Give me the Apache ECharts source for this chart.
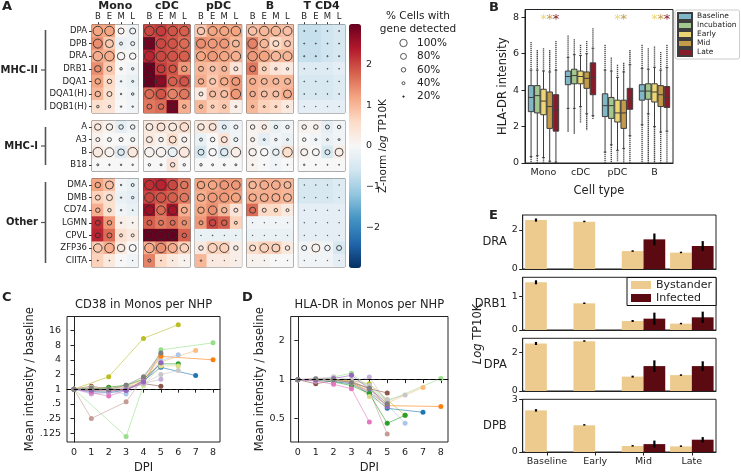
<!DOCTYPE html>
<html>
<head>
<meta charset="utf-8">
<script src="https://cdn.jsdelivr.net/npm/echarts@6/dist/echarts.min.js"></script>
<style>
html, body { margin: 0; padding: 0; background: #fff; }
#chart { width: 741px; height: 473px; }
</style>
</head>
<body>
<div id="chart"></div>
<script>
// ---------- panel A: dot heatmap ----------
const cellTypes = ['Mono', 'cDC', 'pDC', 'B', 'T CD4'];
const stages = ['B', 'E', 'M', 'L'];
const genesMHC2 = ['DPA', 'DPB', 'DRA', 'DRB1', 'DQA1', 'DQA1(H)', 'DQB1(H)'];
const genesMHC1 = ['A', 'A3', 'B', 'B18'];
const genesOther = ['DMA', 'DMB', 'CD74', 'LGMN', 'CPVL', 'ZFP36', 'CIITA'];
const groupNames = ['MHC-II', 'MHC-I', 'Other'];

// z-norm values, rows = MHC-II, MHC-I, Other genes in order
const zMono = [
  [1.2, 1.2, 0.05, -0.1], [1.4, 0.8, -0.2, -0.15], [1.1, 1.1, 0.05, 0.0], [1.4, 0.8, 0.0, -0.1],
  [1.2, 0.6, -0.1, -0.2], [1.0, 0.5, -0.05, -0.15], [0.5, 0.4, 0.0, -0.1],
  [0.3, 0.1, -0.3, -0.1], [0.1, 0.0, 0.0, -0.05], [0.3, 0.1, -0.4, 0.3], [0.0, 0.0, 0.0, 0.0],
  [1.2, 0.9, -0.1, -0.2], [0.7, 0.5, -0.2, -0.3], [1.1, 0.5, -0.1, -0.2], [2.2, 1.3, 0.2, 0.1],
  [2.3, 1.7, 0.5, 0.3], [0.8, 1.1, 0.3, 0.0], [0.7, 0.3, 0.0, -0.1]
];
const zCDC = [
  [2.0, 2.1, 1.9, 1.8], [2.9, 2.0, 1.9, 1.7], [2.3, 2.0, 1.9, 1.8], [3.0, 2.1, 1.9, 1.3],
  [3.0, 2.7, 1.8, 1.9], [1.7, 1.9, 1.5, 1.6], [1.6, 1.7, 2.9, 1.1],
  [0.3, 0.4, 0.3, 0.5], [0.3, 0.1, 0.5, 0.1], [0.1, 0.1, -0.2, 0.3], [0.0, 0.0, 0.4, 0.0],
  [2.2, 2.3, 2.0, 1.6], [2.0, 1.9, 1.8, 1.6], [2.6, 1.7, 2.5, 1.1], [1.8, 1.6, 1.7, 1.4],
  [3.0, 3.0, 3.0, 1.8], [1.1, 1.4, 1.1, 0.7], [1.5, 0.6, 0.3, 0.1]
];
const zPDC = [
  [0.8, 1.2, 1.2, 1.2], [1.4, 1.3, 1.3, 1.0], [1.2, 1.3, 1.2, 1.1], [1.0, 0.9, 1.0, 0.4],
  [1.1, 0.8, 1.1, 1.3], [0.3, 0.9, 0.9, 1.3], [1.0, 0.7, 0.8, 0.2],
  [0.3, 0.4, -0.3, -0.1], [-0.2, 0.0, 0.4, -0.1], [-0.5, 0.0, -0.4, 0.2], [0.0, 0.0, 0.0, 0.0],
  [1.2, 1.2, 1.3, 1.3], [1.1, 1.3, 1.3, 1.2], [1.2, 1.4, 1.0, 0.4], [1.3, 2.0, 1.8, 0.7],
  [-0.2, -0.2, -0.2, -0.2], [0.3, 0.7, 0.7, 0.2], [1.0, 0.3, 0.3, 0.2]
];
const zB = [
  [0.9, 1.0, 1.0, 0.9], [1.5, 1.0, 0.6, 0.8], [1.3, 1.2, 1.0, 1.0], [1.6, 0.7, 0.4, 0.3],
  [1.1, 1.0, 1.0, 1.0], [1.1, 0.9, 0.9, 1.1], [1.0, 0.7, 0.6, 0.3],
  [0.1, 0.2, -0.2, -0.1], [0.1, -0.3, -0.1, -0.2], [0.1, 0.0, -0.2, 0.5], [0.1, 0.0, -0.1, 0.0],
  [1.0, 1.1, 1.1, 1.0], [1.1, 1.1, 1.1, 1.0], [1.7, 0.6, 0.6, 0.3], [-0.1, -0.1, -0.1, -0.1],
  [-0.2, -0.2, -0.2, -0.2], [0.5, 0.7, 0.7, 0.3], [0.1, 0.1, 0.0, 0.0]
];
const zTCD4 = [
  [-0.7, -0.7, -0.6, -0.5], [-0.7, -0.7, -0.6, -0.5], [-0.7, -0.7, -0.6, -0.5], [-0.4, -0.4, -0.4, -0.3],
  [-0.5, -0.5, -0.5, -0.4], [-0.5, -0.5, -0.5, -0.4], [-0.3, -0.3, -0.3, -0.3],
  [0.1, 0.1, -0.3, -0.1], [0.0, -0.1, -0.2, -0.1], [0.1, 0.0, -0.5, 0.2], [0.0, 0.0, 0.0, 0.0],
  [-0.5, -0.5, -0.5, -0.4], [-0.5, -0.5, -0.5, -0.4], [-0.3, -0.3, -0.3, -0.3], [-0.3, -0.3, -0.3, -0.3],
  [-0.3, -0.3, -0.3, -0.3], [-0.1, 0.1, -0.1, -0.5], [-0.1, -0.1, -0.1, -0.3]
];
// fraction of cells with gene detected
const pctMono = [
  [0.95, 0.95, 0.6, 0.6], [0.9, 0.8, 0.3, 0.4], [0.95, 0.95, 0.75, 0.65], [0.65, 0.5, 0.25, 0.25],
  [0.55, 0.45, 0.15, 0.2], [0.55, 0.5, 0.15, 0.25], [0.25, 0.25, 0.15, 0.15],
  [0.65, 0.65, 0.45, 0.45], [0.4, 0.4, 0.4, 0.4], [0.95, 0.9, 0.65, 0.95], [0.2, 0.15, 0.15, 0.15],
  [0.55, 0.8, 0.15, 0.3], [0.5, 0.6, 0.15, 0.25], [0.45, 0.35, 0.15, 0.1], [0.5, 0.45, 0.15, 0.1],
  [0.5, 0.5, 0.3, 0.3], [0.85, 0.95, 0.75, 0.7], [0.1, 0.08, 0.05, 0.05]
];
const pctCDC = [
  [0.95, 0.95, 0.95, 0.95], [1.0, 0.95, 0.95, 0.95], [1.0, 1.0, 1.0, 1.0], [0.9, 0.8, 0.75, 0.55],
  [1.0, 0.95, 0.85, 0.9], [0.9, 0.95, 0.95, 0.95], [0.5, 0.55, 0.6, 0.35],
  [0.7, 0.8, 0.8, 0.85], [0.6, 0.45, 0.7, 0.5], [0.95, 0.95, 0.9, 1.0], [0.25, 0.2, 0.45, 0.25],
  [0.95, 1.0, 0.95, 0.75], [0.95, 0.95, 0.95, 0.85], [0.9, 0.85, 0.9, 0.6], [0.5, 0.5, 0.5, 0.45],
  [0.85, 0.85, 0.85, 0.45], [0.95, 0.95, 0.9, 0.85], [0.3, 0.1, 0.05, 0.05]
];
const pctPDC = [
  [0.75, 0.9, 0.9, 0.95], [0.9, 0.9, 0.9, 0.7], [0.9, 0.95, 0.95, 0.95], [0.5, 0.5, 0.5, 0.4],
  [0.55, 0.6, 0.75, 0.8], [0.4, 0.6, 0.7, 0.95], [0.35, 0.3, 0.35, 0.2],
  [0.65, 0.7, 0.4, 0.4], [0.3, 0.45, 0.6, 0.4], [0.6, 0.75, 0.75, 0.95], [0.25, 0.2, 0.2, 0.2],
  [0.75, 0.85, 0.85, 0.85], [0.75, 0.9, 0.9, 0.9], [0.65, 0.85, 0.55, 0.4], [0.4, 0.65, 0.55, 0.3],
  [0.05, 0.08, 0.05, 0.05], [0.45, 0.9, 0.9, 0.45], [0.15, 0.05, 0.05, 0.05]
];
const pctB = [
  [0.85, 0.95, 0.95, 0.9], [0.95, 0.85, 0.6, 0.6], [0.95, 1.0, 0.95, 0.9], [0.6, 0.4, 0.25, 0.25],
  [0.6, 0.6, 0.6, 0.6], [0.55, 0.6, 0.6, 0.8], [0.25, 0.2, 0.2, 0.2],
  [0.45, 0.45, 0.35, 0.35], [0.4, 0.2, 0.25, 0.2], [0.75, 0.75, 0.65, 0.95], [0.15, 0.1, 0.1, 0.1],
  [0.75, 0.85, 0.85, 0.7], [0.75, 0.8, 0.8, 0.8], [0.6, 0.4, 0.35, 0.3], [0.05, 0.05, 0.05, 0.05],
  [0.05, 0.05, 0.05, 0.05], [0.6, 0.85, 0.8, 0.45], [0.05, 0.05, 0.05, 0.05]
];
const pctTCD4 = [
  [0.1, 0.1, 0.1, 0.1], [0.1, 0.1, 0.1, 0.1], [0.12, 0.12, 0.12, 0.12], [0.08, 0.08, 0.08, 0.08],
  [0.08, 0.08, 0.08, 0.08], [0.08, 0.08, 0.08, 0.08], [0.06, 0.06, 0.06, 0.06],
  [0.45, 0.45, 0.4, 0.35], [0.35, 0.2, 0.2, 0.2], [0.7, 0.7, 0.5, 0.8], [0.15, 0.1, 0.1, 0.1],
  [0.05, 0.05, 0.05, 0.05], [0.05, 0.05, 0.05, 0.05], [0.05, 0.05, 0.05, 0.05], [0.04, 0.04, 0.04, 0.04],
  [0.04, 0.04, 0.04, 0.04], [0.5, 0.8, 0.55, 0.5], [0.03, 0.03, 0.03, 0.03]
];
const sizeLegendPct = [1.0, 0.8, 0.6, 0.4, 0.2];
const sizeLegendText = ['100%', '80%', '60%', '40%', '20%'];
const colorbarTicks = [-2, -1, 0, 1, 2];

// ---------- panel B: HLA-DR boxplots ----------
const boxCats = ['Mono', 'cDC', 'pDC', 'B'];
const boxConds = ['Baseline', 'Incubation', 'Early', 'Mid', 'Late'];
const boxColors = ['#7fb7c6', '#a2c78f', '#ecd674', '#c39a47', '#861b2a'];
// [lowWhisker, q1, median, q3, highWhisker] per cell type
const boxBaseline = [[0.35, 2.82, 3.6, 4.25, 5.1], [3.0, 4.3, 4.75, 5.05, 5.8], [0.6, 2.55, 3.15, 3.8, 5.1], [2.1, 3.45, 3.95, 4.3, 5.2]];
const boxIncubation = [[0.4, 2.75, 3.7, 4.25, 5.1], [3.0, 4.35, 4.8, 5.15, 5.95], [1.0, 2.45, 3.15, 3.6, 5.05], [2.7, 3.5, 3.95, 4.35, 5.15]];
const boxEarly = [[0.3, 2.65, 3.4, 4.05, 5.05], [3.1, 4.35, 4.75, 5.05, 5.9], [0.7, 2.25, 2.75, 3.45, 4.7], [2.0, 3.35, 3.9, 4.35, 5.25]];
const boxMid = [[0.1, 1.9, 3.1, 3.9, 5.0], [2.7, 4.1, 4.65, 5.0, 6.0], [0.8, 1.9, 2.75, 3.45, 5.0], [1.7, 3.1, 3.75, 4.25, 5.1]];
const boxLate = [[0.05, 1.75, 2.9, 3.75, 5.1], [2.6, 3.75, 4.7, 5.5, 6.3], [1.5, 2.95, 3.55, 4.1, 5.4], [1.75, 3.05, 3.6, 4.2, 5.25]];
// [lowest flier, highest flier]
const flierBaseline = [[0, 6.65], [1.7, 7.0], [0, 6.5], [0, 6.5]];
const flierIncubation = [[0, 6.2], [1.6, 6.8], [0, 5.8], [0, 6.3]];
const flierEarly = [[0, 6.3], [2.2, 6.5], [0.1, 5.4], [0, 6.4]];
const flierMid = [[0, 6.2], [1.8, 6.7], [0, 5.5], [0, 6.1]];
const flierLate = [[0, 6.7], [2.4, 7.4], [0, 6.2], [0, 6.5]];
// significance stars: [cell type index, condition index]
const sigStars = [[0, 2], [0, 3], [0, 4], [2, 2], [2, 3], [3, 2], [3, 3], [3, 4]];

// ---------- panels C, D: per-NHP trajectories (ratio to baseline, DPI 0..8) ----------
const dpiTicks = [0, 1, 2, 3, 4, 5, 6, 7, 8];
const nhpColors = ['#bcbd22', '#98df8a', '#c49c94', '#8c564b', '#ff7f0e', '#ffbb78', '#aec7e8', '#1f77b4',
  '#2ca02c', '#c7c7c7', '#dbdb8d', '#c5b0d5', '#e377c2', '#9467bd', '#7f7f7f'];
const cd38Ratio = [
  [1, null, 1.8, null, 11, null, 21, null, null],
  [1, null, null, 0.107, 1.2, 6.4, null, null, 8.9],
  [1, 0.25, null, 0.55, 1.7, 5.0, null, null, null],
  [1, 1.15, 1.0, 1.0, 1.3, 1.15, null, null, null],
  [1, 0.95, 0.9, 1.0, 1.5, 4.7, null, null, 4.0],
  [1, 1.0, 1.1, 1.1, 1.6, 3.6, null, 6.2, null],
  [1, 0.85, 0.9, 0.8, 1.4, 3.8, 5.1, null, null],
  [1, 0.9, 0.85, 0.95, 1.5, 2.8, null, 1.9, null],
  [1, 1.0, 1.1, 1.2, 1.6, 3.3, 3.3, null, null],
  [1, 1.05, 1.0, 1.1, 1.3, 2.0, 2.4, null, null],
  [1, 1.1, 1.0, 1.15, 1.2, 3.0, 3.0, null, null],
  [1, 0.8, 0.85, 1.1, 1.3, 1.6, null, null, null],
  [1, 0.85, 0.72, 0.95, 1.5, null, null, null, null],
  [1, 0.95, 0.95, 0.95, 1.4, 3.5, null, null, null],
  [1, 1.05, 1.0, 1.2, 1.8, 5.5, null, null, null]
];
const hladrRatio = [
  [1, 1.0, 1.0, 0.98, 0.93, 0.7, 0.53, null, null],
  [1, 0.98, 1.05, 1.12, null, 0.68, null, null, 1.02],
  [1, 1.02, 1.0, 0.95, 0.82, 0.38, null, null, null],
  [1, 0.93, 0.98, 0.97, 0.85, 0.79, null, null, null],
  [1, 1.0, 0.98, 0.95, 0.8, 0.63, null, null, 0.62],
  [1, 1.0, 1.0, 0.97, 0.85, 0.66, null, 0.87, null],
  [1, 0.99, 0.97, 0.92, 0.8, 0.64, 0.46, null, null],
  [1, 0.99, 0.97, 0.93, 0.78, 0.6, null, 0.56, null],
  [1, 1.0, 0.96, 0.9, 0.78, 0.46, 0.53, null, null],
  [1, 1.02, 1.05, 1.0, 0.9, 0.7, 0.76, null, null],
  [1, 1.0, 0.98, 0.95, 0.74, 0.62, null, null, null],
  [1, 0.97, 0.99, 0.94, 1.05, 0.66, null, null, null],
  [1, 0.98, 0.92, 0.85, 0.47, null, null, null, null],
  [1, 1.0, 1.02, 1.08, 0.85, 0.62, null, null, null],
  [1, 1.01, 1.0, 0.95, 0.86, 0.65, null, null, null]
];
const cdTickVals = [0.125, 0.25, 0.5, 1, 2, 4, 8, 16];
const cdTickText = ['.125', '.25', '.5', '1', '2', '4', '8', '16'];
const hlaTickVals = [0.5, 1, 2];
const hlaTickText = ['0.5', '1', '2'];

// ---------- panel E: bystander vs infected ----------
const eGenes = ['DRA', 'DRB1', 'DPA', 'DPB'];
const eStages = ['Baseline', 'Early', 'Mid', 'Late'];
const eMax = [2.77, 1.58, 2.75, 3.0];
const eTicks = [[0, 2], [0, 1], [0, 2], [0, 3]];
const bystanderMean = [[2.51, 2.43, 0.92, 0.84], [1.43, 0.80, 0.27, 0.19], [2.48, 2.60, 0.75, 0.83], [2.37, 1.52, 0.34, 0.32]];
const bystanderErr = [[0.08, 0.03, 0.04, 0.03], [0.06, 0.02, 0.03, 0.02], [0.08, 0.03, 0.05, 0.04], [0.07, 0.02, 0.03, 0.03]];
const infectedMean = [[null, null, 1.52, 1.18], [null, null, 0.34, 0.38], [null, null, 1.30, 1.30], [null, null, 0.45, 0.70]];
const infectedErr = [[0, 0, 0.3, 0.25], [0, 0, 0.18, 0.17], [0, 0, 0.3, 0.25], [0, 0, 0.2, 0.15]];

const FONT = 'DejaVu Sans';
const INK = '#222';
const RDBU = ['#053061', '#2166ac', '#4393c3', '#92c5de', '#d1e5f0', '#f7f7f7', '#fddbc7', '#f4a582', '#d6604d', '#b2182b', '#67001f'];

const chart = echarts.init(document.getElementById('chart'));
const grids = [], xAxes = [], yAxes = [], series = [], graphics = [];

function addGrid(g) {
  grids.push(Object.assign({ outerBoundsMode: 'none', containLabel: false, show: true, borderColor: INK, borderWidth: 1 }, g));
  return grids.length - 1;
}
function txt(text, x, y, o) {
  graphics.push({ type: 'text', x, y, rotation: (o && o.rot) || 0, silent: true,
    style: Object.assign({ text, fill: INK, fontFamily: FONT, fontSize: 11, align: 'left', verticalAlign: 'top' }, o && o.style) });
}
const minus = v => (v < 0 ? '\u2212' + Math.abs(v) : String(v));

// --- A ---
const zAll = [zMono, zCDC, zPDC, zB, zTCD4];
const pAll = [pctMono, pctCDC, pctPDC, pctB, pctTCD4];
const blocks = [genesMHC2, genesMHC1, genesOther];
const blockTop = [24.7, 120.7, 178.7];
const rowH = 12.6;
const heatSeries = [];
let rowOffset = 0;
blocks.forEach((genes, b) => {
  cellTypes.forEach((ct, c) => {
    const gi = addGrid({ left: 92 + c * 51.6, top: blockTop[b], width: 46.5, height: genes.length * rowH, borderColor: '#333' });
    xAxes.push({ type: 'category', gridIndex: gi, data: stages, position: 'top',
      axisLine: { show: false }, axisTick: { show: b === 0, length: 2.5, alignWithLabel: true, lineStyle: { color: '#333' } },
      axisLabel: { show: b === 0, fontSize: 8.5, margin: 3, color: INK, fontFamily: FONT, interval: 0 },
      name: b === 0 ? ct : '', nameLocation: 'middle', nameGap: 12,
      nameTextStyle: { fontWeight: 'bold', fontSize: 11, color: INK, fontFamily: FONT } });
    yAxes.push({ type: 'category', gridIndex: gi, data: genes, inverse: true,
      axisLine: { show: false }, axisTick: { show: c === 0, length: 3, alignWithLabel: true, lineStyle: { color: '#333' } },
      axisLabel: { show: c === 0, fontSize: 8.5, margin: 5, color: INK, fontFamily: FONT, interval: 0 } });
    const hd = [], sd = [];
    genes.forEach((g, r) => stages.forEach((s, k) => {
      hd.push([k, r, zAll[c][rowOffset + r][k]]);
      sd.push([k, r, pAll[c][rowOffset + r][k]]);
    }));
    heatSeries.push(series.length);
    series.push({ type: 'heatmap', xAxisIndex: gi, yAxisIndex: gi, data: hd, silent: true, itemStyle: { borderWidth: 0 } });
    series.push({ type: 'scatter', xAxisIndex: gi, yAxisIndex: gi, data: sd, silent: true,
      symbolSize: v => Math.max(0.6, v[2] * 10),
      itemStyle: { color: 'rgba(0,0,0,0)', borderColor: '#2a2a2a', borderWidth: 0.85, opacity: 1 } });
  });
  rowOffset += genes.length;
});

// colorbar axis
const gBar = addGrid({ left: 349, top: 24, width: 12, height: 244, show: false });
xAxes.push({ type: 'value', gridIndex: gBar, show: false, min: 0, max: 1 });
yAxes.push({ type: 'value', gridIndex: gBar, min: -3, max: 3, position: 'right',
  axisLine: { show: false }, splitLine: { show: false },
  axisTick: { show: true, length: 3.5, customValues: colorbarTicks, lineStyle: { color: INK } },
  axisLabel: { customValues: colorbarTicks, formatter: minus, fontSize: 9.5, margin: 5, color: INK, fontFamily: FONT } });
txt('{a|Z-norm }{i|log}{a| TP10K}', 383, 146, { rot: Math.PI / 2, style: { align: 'center', verticalAlign: 'middle',
  rich: { a: { fontSize: 10.5, fontFamily: FONT, fill: INK }, i: { fontSize: 10.5, fontFamily: FONT, fontStyle: 'italic', fill: INK } } } });

// size legend
txt('% Cells with', 418, 16, { style: { align: 'center', verticalAlign: 'middle', fontSize: 10.5 } });
txt('gene detected', 418, 29, { style: { align: 'center', verticalAlign: 'middle', fontSize: 10.5 } });
sizeLegendPct.forEach((p, i) => {
  const y = 43 + i * 13.4;
  graphics.push({ type: 'circle', silent: true, shape: { cx: 403.5, cy: y, r: Math.max(0.6, p * 3.7) },
    style: { fill: p < 0.3 ? '#2a2a2a' : 'none', stroke: '#2a2a2a', lineWidth: 0.8 } });
  txt(sizeLegendText[i], 417, y, { style: { verticalAlign: 'middle', fontSize: 10.5 } });
});

// group brackets
const brackets = [[30, 110], [127, 165], [182, 263]];
brackets.forEach((br, i) => {
  const mid = (br[0] + br[1]) / 2;
  graphics.push({ type: 'line', silent: true, shape: { x1: 45.5, y1: br[0], x2: 45.5, y2: br[1] }, style: { stroke: '#555', lineWidth: 1.6 } });
  graphics.push({ type: 'line', silent: true, shape: { x1: 41, y1: mid, x2: 45.5, y2: mid }, style: { stroke: '#555', lineWidth: 1.2 } });
  txt(groupNames[i], 38, mid, { style: { align: 'right', verticalAlign: 'middle', fontWeight: 'bold', fontSize: 10 } });
});

// --- B ---
const boxSets = [boxBaseline, boxIncubation, boxEarly, boxMid, boxLate];
const flierSets = [flierBaseline, flierIncubation, flierEarly, flierMid, flierLate];
const gB = addGrid({ left: 525, top: 9.5, width: 148, height: 153.5 });
xAxes.push({ type: 'category', gridIndex: gB, data: boxCats,
  axisLine: { show: true, lineStyle: { color: INK } }, axisTick: { length: 3.5, alignWithLabel: true, lineStyle: { color: INK } },
  axisLabel: { fontSize: 9.5, margin: 5, color: INK, fontFamily: FONT, interval: 0 },
  name: 'Cell type', nameLocation: 'middle', nameGap: 22, nameTextStyle: { fontSize: 11.5, color: INK, fontFamily: FONT } });
yAxes.push({ type: 'value', gridIndex: gB, min: 0, max: 8.43,
  axisLine: { show: true, lineStyle: { color: INK } }, splitLine: { show: false },
  axisTick: { show: true, length: 3.5, customValues: [0, 2, 4, 6, 8], lineStyle: { color: INK } },
  axisLabel: { customValues: [0, 2, 4, 6, 8], fontSize: 9.5, margin: 6, color: INK, fontFamily: FONT },
  name: 'HLA-DR intensity', nameLocation: 'middle', nameGap: 14, nameTextStyle: { fontSize: 11.5, color: INK, fontFamily: FONT } });

function boxX(api, ci, j) {
  const band = api.size([1, 0])[0];
  const bw = band * 0.84 / 5;
  return { cx: api.coord([ci, 0])[0] + (j - 2) * bw, bw };
}
boxConds.forEach((name, j) => {
  const data = boxSets[j].map((s, i) => [i].concat(s, flierSets[j][i]));
  series.push({ type: 'custom', name, xAxisIndex: gB, yAxisIndex: gB, data, silent: true,
    itemStyle: { color: boxColors[j], borderColor: '#3d3d3d', borderWidth: 1 },
    renderItem: (params, api) => {
      const ci = api.value(0);
      const { cx, bw } = boxX(api, ci, j);
      const Y = k => api.coord([ci, api.value(k)])[1];
      const lo = Y(1), q1 = Y(2), med = Y(3), q3 = Y(4), hi = Y(5), fmin = Y(6), fmax = Y(7);
      const w = bw * 0.88, cap = w * 0.25;
      const ls = { stroke: '#3d3d3d', lineWidth: 1 };
      const fl = { stroke: '#4d4d4d', lineWidth: 1.4, lineDash: [1.3, 0.7] };
      return { type: 'group', children: [
        { type: 'line', shape: { x1: cx, y1: fmax, x2: cx, y2: hi }, style: fl },
        { type: 'line', shape: { x1: cx, y1: lo, x2: cx, y2: fmin }, style: fl },
        { type: 'line', shape: { x1: cx, y1: hi, x2: cx, y2: q3 }, style: ls },
        { type: 'line', shape: { x1: cx, y1: q1, x2: cx, y2: lo }, style: ls },
        { type: 'line', shape: { x1: cx - cap, y1: hi, x2: cx + cap, y2: hi }, style: ls },
        { type: 'line', shape: { x1: cx - cap, y1: lo, x2: cx + cap, y2: lo }, style: ls },
        { type: 'rect', shape: { x: cx - w / 2, y: q3, width: w, height: q1 - q3 }, style: { fill: boxColors[j], stroke: '#3d3d3d', lineWidth: 1 } },
        { type: 'line', shape: { x1: cx - w / 2, y1: med, x2: cx + w / 2, y2: med }, style: ls }
      ] };
    } });
});
series.push({ type: 'custom', xAxisIndex: gB, yAxisIndex: gB, data: sigStars, silent: true,
  renderItem: (params, api) => {
    const ci = api.value(0), j = api.value(1);
    const { cx } = boxX(api, ci, j);
    const y = api.coord([ci, 8])[1];
    return { type: 'text', x: cx, y: y + 2, style: { text: '*', fill: boxColors[j], fontSize: 13, fontFamily: FONT, align: 'center', verticalAlign: 'middle' } };
  } });

// --- C & D ---
function trajPanel(left, top, width, height, ratios, yMin, yMax, tickVals, tickText, yGap, title) {
  const gi = addGrid({ left, top, width, height });
  xAxes.push({ type: 'value', gridIndex: gi, min: -0.4, max: 8.4,
    axisLine: { show: true, lineStyle: { color: INK } }, splitLine: { show: false },
    axisTick: { show: true, length: 3.5, customValues: dpiTicks, lineStyle: { color: INK } },
    axisLabel: { customValues: dpiTicks, fontSize: 9.5, margin: 6, color: INK, fontFamily: FONT },
    name: 'DPI', nameLocation: 'middle', nameGap: 20, nameTextStyle: { fontSize: 11.5, color: INK, fontFamily: FONT } });
  const lv = tickVals.map(Math.log2);
  yAxes.push({ type: 'value', gridIndex: gi, min: yMin, max: yMax,
    axisLine: { show: true, lineStyle: { color: INK } }, splitLine: { show: false },
    axisTick: { show: true, length: 3.5, customValues: lv, lineStyle: { color: INK } },
    axisLabel: { customValues: lv, fontSize: 9.5, margin: 6, color: INK, fontFamily: FONT,
      formatter: v => { const i = lv.findIndex(t => Math.abs(t - v) < 1e-6); return i >= 0 ? tickText[i] : ''; } },
    name: 'Mean intensity / baseline', nameLocation: 'middle', nameGap: yGap, nameTextStyle: { fontSize: 11.5, color: INK, fontFamily: FONT } });
  ratios.forEach((row, n) => {
    const data = row.map((v, d) => [d, v == null ? null : Math.log2(v)]).filter(p => p[1] != null);
    series.push({ type: 'line', xAxisIndex: gi, yAxisIndex: gi, data, silent: true, z: 3,
      symbol: 'circle', symbolSize: 5, showSymbol: true,
      lineStyle: { width: 0.8, color: nhpColors[n], opacity: 0.75 }, itemStyle: { color: nhpColors[n] },
      markLine: n === 0 ? { silent: true, symbol: 'none', label: { show: false }, data: [{ yAxis: 0 }],
        lineStyle: { type: [4, 3], color: '#000', width: 1.2 } } : undefined });
  });
  txt(title, left + width / 2, top - 11, { style: { align: 'center', verticalAlign: 'middle', fontSize: 11.5 } });
}
trajPanel(67, 316.5, 153, 125.5, cd38Ratio, -3.6, 4.95, cdTickVals, cdTickText, 29, 'CD38 in Monos per NHP');
trajPanel(290.7, 316.5, 157.3, 125.5, hladrRatio, -1.6, 1.62, hlaTickVals, hlaTickText, 24, 'HLA-DR in Monos per NHP');

// --- E ---
const eTop = [215, 277.3, 338.3, 399.3];
const eH = [54, 52.7, 52.7, 52.7];
eGenes.forEach((gene, g) => {
  const last = g === eGenes.length - 1;
  const gi = addGrid({ left: 522.7, top: eTop[g], width: 193.3, height: eH[g] });
  xAxes.push({ type: 'category', gridIndex: gi, data: eStages,
    axisLine: { show: true, lineStyle: { color: INK } },
    axisTick: { show: last, length: 3.5, alignWithLabel: true, lineStyle: { color: INK } },
    axisLabel: { show: last, fontSize: 9.5, margin: 5, color: INK, fontFamily: FONT, interval: 0, hideOverlap: false } });
  yAxes.push({ type: 'value', gridIndex: gi, min: 0, max: eMax[g],
    axisLine: { show: true, lineStyle: { color: INK } }, splitLine: { show: false },
    axisTick: { show: true, length: 3.5, customValues: eTicks[g], lineStyle: { color: INK } },
    axisLabel: { customValues: eTicks[g], fontSize: 9.5, margin: 5, color: INK, fontFamily: FONT },
    name: gene, nameLocation: 'middle', nameRotate: 0, nameGap: 6,
    nameTextStyle: { fontSize: 11.5, color: INK, fontFamily: FONT, align: 'right', verticalAlign: 'middle' } });
  series.push({ type: 'bar', name: 'Bystander', xAxisIndex: gi, yAxisIndex: gi, data: bystanderMean[g], silent: true,
    barWidth: '45%', barGap: '0%', itemStyle: { color: '#edcb8f' } });
  series.push({ type: 'bar', name: 'Infected', xAxisIndex: gi, yAxisIndex: gi, data: infectedMean[g], silent: true,
    barWidth: '45%', barGap: '0%', itemStyle: { color: '#5a0a10' } });
  const err = [];
  eStages.forEach((s, k) => {
    err.push([k, bystanderMean[g][k] - bystanderErr[g][k], bystanderMean[g][k] + bystanderErr[g][k], -1]);
    if (infectedMean[g][k] != null) err.push([k, infectedMean[g][k] - infectedErr[g][k], infectedMean[g][k] + infectedErr[g][k], 1]);
  });
  series.push({ type: 'custom', xAxisIndex: gi, yAxisIndex: gi, data: err, silent: true, z: 5,
    renderItem: (params, api) => {
      const k = api.value(0);
      const band = api.size([1, 0])[0];
      const x = api.coord([k, 0])[0] + api.value(3) * 0.225 * band;
      const y1 = api.coord([k, api.value(1)])[1], y2 = api.coord([k, api.value(2)])[1];
      return { type: 'line', shape: { x1: x, y1, x2: x, y2: Math.min(y2, y1 - 1.5) }, style: { stroke: '#000', lineWidth: 2.2 } };
    } });
});
txt('{i|Log} TP10K', 478, 334, { rot: Math.PI / 2, style: { align: 'center', verticalAlign: 'middle', fontSize: 11.5,
  rich: { i: { fontStyle: 'italic', fontSize: 11.5, fontFamily: FONT, fill: INK } } } });

// panel letters
[['A', 2, 0], ['B', 489, 1], ['C', 2, 291], ['D', 242, 291], ['E', 489, 209]].forEach(l =>
  txt(l[0], l[1], l[2], { style: { fontWeight: 'bold', fontSize: 13 } }));

chart.setOption({
  animation: false,
  backgroundColor: '#fff',
  textStyle: { fontFamily: FONT, color: INK },
  grid: grids,
  xAxis: xAxes,
  yAxis: yAxes,
  visualMap: [{ type: 'continuous', min: -3, max: 3, seriesIndex: heatSeries, calculable: false, hoverLink: false,
    left: 349, top: 24, itemWidth: 12, itemHeight: 244, padding: 0, text: null, showLabel: false,
    inRange: { color: RDBU } }],
  legend: [
    { data: boxConds, left: 675, top: 10, orient: 'vertical', icon: 'rect', itemWidth: 14, itemHeight: 7, itemGap: 0,
      padding: [2, 3, 2, 2], borderColor: '#ccc', borderWidth: 1, borderRadius: 2, backgroundColor: '#fff', selectedMode: false,
      textStyle: { fontSize: 7.5, lineHeight: 8, color: INK, fontFamily: FONT } },
    { data: ['Bystander', 'Infected'], left: 627, top: 277.5, orient: 'vertical', icon: 'rect', itemWidth: 20, itemHeight: 8, itemGap: 0,
      padding: [1, 4, 1, 4], borderColor: '#111', borderWidth: 1, backgroundColor: '#fff', selectedMode: false,
      textStyle: { fontSize: 11, lineHeight: 13, color: INK, fontFamily: FONT } }
  ],
  graphic: graphics,
  series
});
</script>
</body>
</html>
